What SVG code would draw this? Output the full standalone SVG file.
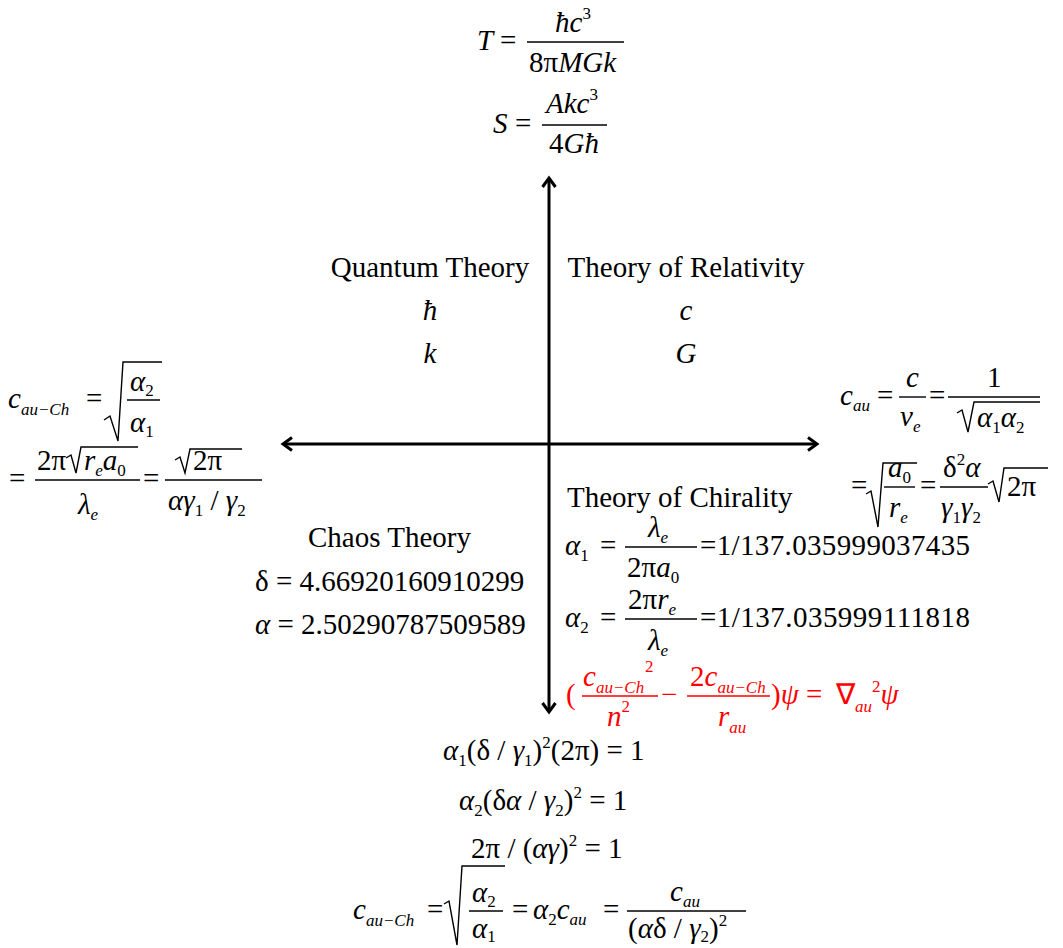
<svg xmlns="http://www.w3.org/2000/svg" width="1063" height="948" viewBox="0 0 1063 948">
<defs>
<style>
.m{font-family:"Liberation Serif","Times New Roman",serif;font-size:29px;fill:#000}
.i{font-style:italic}
.sb{font-size:17px}
.r{fill:#ff0000}
.fl{stroke:#000;stroke-width:1.4}
.rl{stroke:#ff0000;stroke-width:1.4}
.rad{fill:none;stroke:#000;stroke-width:1.4;stroke-linejoin:miter}
.ax{stroke:#000;stroke-width:3;fill:none}
</style>
<marker id="ah" markerUnits="userSpaceOnUse" viewBox="-14 -10 20 20" refX="0" refY="0" markerWidth="20" markerHeight="20" orient="auto-start-reverse">
<path d="M-9,-6.5 L0,0 L-9,6.5" fill="none" stroke="#000" stroke-width="3"/>
</marker>
</defs>
<rect width="1063" height="948" fill="#fff"/>

<g id="connectors">
<line class="ax" x1="549" y1="712" x2="549" y2="178" marker-start="url(#ah)" marker-end="url(#ah)"/>
<line class="ax" x1="283" y1="444" x2="817" y2="444" marker-start="url(#ah)" marker-end="url(#ah)"/>
</g>

<g id="n-hawking">
<text class="m i" x="477" y="50">T</text>
<text class="m" x="500" y="50">=</text>
<line class="fl" x1="527" y1="42" x2="624" y2="42"/>
<text class="m" x="555" y="32"><tspan class="i">ħc</tspan><tspan class="sb" dy="-13">3</tspan></text>
<text class="m" x="529" y="72">8π<tspan class="i">MGk</tspan></text>
<text class="m i" x="493" y="133">S</text>
<text class="m" x="515" y="133">=</text>
<line class="fl" x1="542" y1="125" x2="607" y2="125"/>
<text class="m" x="546" y="113"><tspan class="i">Akc</tspan><tspan class="sb" dy="-13">3</tspan></text>
<text class="m" x="549" y="153">4<tspan class="i">Għ</tspan></text>
</g>

<g id="n-quantum">
<text class="m" x="430" y="277" text-anchor="middle">Quantum Theory</text>
<text class="m i" x="430" y="320" text-anchor="middle">ħ</text>
<text class="m i" x="430" y="363" text-anchor="middle">k</text>
</g>

<g id="n-relativity">
<text class="m" x="686" y="277" text-anchor="middle">Theory of Relativity</text>
<text class="m i" x="686" y="320" text-anchor="middle">c</text>
<text class="m i" x="686" y="363" text-anchor="middle">G</text>
</g>

<g id="n-left">
<text class="m" x="8" y="408"><tspan class="i">c</tspan><tspan class="sb i" dy="7">au−Ch</tspan></text>
<text class="m" x="86" y="408">=</text>
<path class="rad" d="M104,420 L110,416 L118,441 L123,362 L162,362"/>
<line class="fl" x1="127" y1="400" x2="160" y2="400"/>
<text class="m" x="130" y="391"><tspan class="i">α</tspan><tspan class="sb" dy="5">2</tspan></text>
<text class="m" x="130" y="432"><tspan class="i">α</tspan><tspan class="sb" dy="5">1</tspan></text>
<text class="m" x="9" y="488">=</text>
<line class="fl" x1="35" y1="480" x2="140" y2="480"/>
<text class="m" x="37" y="470">2π</text>
<path class="rad" d="M66,458 L71,455 L76,473 L81,447 L138,447"/>
<text class="m" x="84" y="470"><tspan class="i">r</tspan><tspan class="sb i" dy="6">e</tspan><tspan class="i" dy="-6">a</tspan><tspan class="sb" dy="6">0</tspan></text>
<text class="m" x="78" y="514"><tspan class="i">λ</tspan><tspan class="sb i" dy="6">e</tspan></text>
<text class="m" x="143" y="488">=</text>
<line class="fl" x1="165" y1="480" x2="262" y2="480"/>
<path class="rad" d="M175,460 L180,457 L185,473 L190,449 L242,449"/>
<text class="m" x="193" y="470">2π</text>
<text class="m" x="168" y="510"><tspan class="i">αγ</tspan><tspan class="sb" dy="6">1</tspan><tspan dy="-6"> / </tspan><tspan class="i">γ</tspan><tspan class="sb" dy="6">2</tspan></text>
</g>

<g id="n-right">
<text class="m" x="840" y="405"><tspan class="i">c</tspan><tspan class="sb i" dy="6">au</tspan></text>
<text class="m" x="877" y="405">=</text>
<line class="fl" x1="899" y1="397" x2="926" y2="397"/>
<text class="m i" x="906" y="387">c</text>
<text class="m" x="900" y="426"><tspan class="i">v</tspan><tspan class="sb i" dy="6">e</tspan></text>
<text class="m" x="929" y="405">=</text>
<line class="fl" x1="948" y1="397" x2="1040" y2="397"/>
<text class="m" x="987" y="387">1</text>
<path class="rad" d="M957,413 L962,410 L968,432 L974,402 L1040,402"/>
<text class="m" x="977" y="427"><tspan class="i">α</tspan><tspan class="sb" dy="6">1</tspan><tspan class="i" dy="-6">α</tspan><tspan class="sb" dy="6">2</tspan></text>
<text class="m" x="851" y="495">=</text>
<path class="rad" d="M866,494 L871,491 L878,527 L883,463 L917,463"/>
<line class="fl" x1="884" y1="487" x2="915" y2="487"/>
<text class="m" x="888" y="477"><tspan class="i">a</tspan><tspan class="sb" dy="6">0</tspan></text>
<text class="m" x="889" y="517"><tspan class="i">r</tspan><tspan class="sb i" dy="6">e</tspan></text>
<text class="m" x="920" y="495">=</text>
<line class="fl" x1="940" y1="487" x2="988" y2="487"/>
<text class="m" x="943" y="477">δ<tspan class="sb" dy="-12">2</tspan><tspan class="i" dy="12">α</tspan></text>
<text class="m" x="941" y="517"><tspan class="i">γ</tspan><tspan class="sb" dy="6">1</tspan><tspan class="i" dy="-6">γ</tspan><tspan class="sb" dy="6">2</tspan></text>
<path class="rad" d="M988,484 L993,481 L999,502 L1004,468 L1048,468"/>
<text class="m" x="1007" y="496">2π</text>
</g>

<g id="n-chaos">
<text class="m" x="308" y="547">Chaos Theory</text>
<text class="m" x="255" y="591">δ = 4.66920160910299</text>
<text class="m" x="255" y="634"><tspan class="i">α</tspan> = 2.50290787509589</text>
</g>

<g id="n-chirality">
<text class="m" x="567" y="507">Theory of Chirality</text>
<text class="m" x="565" y="555"><tspan class="i">α</tspan><tspan class="sb" dy="6">1</tspan></text>
<text class="m" x="600" y="555">=</text>
<line class="fl" x1="625" y1="547" x2="697" y2="547"/>
<text class="m" x="648" y="537"><tspan class="i">λ</tspan><tspan class="sb i" dy="6">e</tspan></text>
<text class="m" x="627" y="577">2π<tspan class="i">a</tspan><tspan class="sb" dy="6">0</tspan></text>
<text class="m" x="700" y="555" textLength="270" lengthAdjust="spacing">=1/137.035999037435</text>
<text class="m" x="565" y="627"><tspan class="i">α</tspan><tspan class="sb" dy="6">2</tspan></text>
<text class="m" x="600" y="627">=</text>
<line class="fl" x1="625" y1="619" x2="697" y2="619"/>
<text class="m" x="628" y="609">2π<tspan class="i">r</tspan><tspan class="sb i" dy="6">e</tspan></text>
<text class="m" x="648" y="650"><tspan class="i">λ</tspan><tspan class="sb i" dy="6">e</tspan></text>
<text class="m" x="700" y="627" textLength="270" lengthAdjust="spacing">=1/137.035999111818</text>
</g>

<g id="n-wave">
<text class="m r" x="566" y="704">(</text>
<line class="rl" x1="582" y1="696" x2="658" y2="696"/>
<text class="m r" x="583" y="686"><tspan class="i">c</tspan><tspan class="sb i" dy="7">au−Ch</tspan></text>
<text class="m r sb" x="645" y="672">2</text>
<text class="m r" x="607" y="726"><tspan class="i">n</tspan><tspan class="sb" dy="-14">2</tspan></text>
<text class="m r" x="661" y="704">−</text>
<line class="rl" x1="687" y1="696" x2="770" y2="696"/>
<text class="m r" x="690" y="686">2<tspan class="i">c</tspan><tspan class="sb i" dy="7">au−Ch</tspan></text>
<text class="m r" x="718" y="726"><tspan class="i">r</tspan><tspan class="sb i" dy="7">au</tspan></text>
<text class="m r" x="771" y="704">)<tspan class="i">ψ</tspan> =</text>
<text class="m r" x="836" y="704">∇<tspan class="sb i" dy="8">au</tspan><tspan class="sb" dy="-20">2</tspan><tspan class="i" dy="12">ψ</tspan></text>
</g>

<g id="n-identities">
<text class="m" x="443" y="760"><tspan class="i">α</tspan><tspan class="sb" dy="6">1</tspan><tspan dy="-6">(δ / </tspan><tspan class="i">γ</tspan><tspan class="sb" dy="6">1</tspan><tspan dy="-6">)</tspan><tspan class="sb" dy="-12">2</tspan><tspan dy="12">(2π) = 1</tspan></text>
<text class="m" x="459" y="810"><tspan class="i">α</tspan><tspan class="sb" dy="6">2</tspan><tspan dy="-6">(δ</tspan><tspan class="i">α</tspan><tspan> / </tspan><tspan class="i">γ</tspan><tspan class="sb" dy="6">2</tspan><tspan dy="-6">)</tspan><tspan class="sb" dy="-12">2</tspan><tspan dy="12"> = 1</tspan></text>
<text class="m" x="471" y="858">2π / (<tspan class="i">αγ</tspan>)<tspan class="sb" dy="-12">2</tspan><tspan dy="12"> = 1</tspan></text>
<text class="m" x="353" y="919"><tspan class="i">c</tspan><tspan class="sb i" dy="7">au−Ch</tspan></text>
<text class="m" x="427" y="919">=</text>
<path class="rad" d="M444,904 L449,901 L457,945 L462,866 L505,866"/>
<line class="fl" x1="469" y1="911" x2="503" y2="911"/>
<text class="m" x="472" y="902"><tspan class="i">α</tspan><tspan class="sb" dy="5">2</tspan></text>
<text class="m" x="472" y="938"><tspan class="i">α</tspan><tspan class="sb" dy="4">1</tspan></text>
<text class="m" x="512" y="919">=</text>
<text class="m" x="533" y="919"><tspan class="i">α</tspan><tspan class="sb" dy="6">2</tspan><tspan class="i" dy="-6">c</tspan><tspan class="sb i" dy="6">au</tspan></text>
<text class="m" x="603" y="919">=</text>
<line class="fl" x1="627" y1="911" x2="746" y2="911"/>
<text class="m" x="670" y="901"><tspan class="i">c</tspan><tspan class="sb i" dy="6">au</tspan></text>
<text class="m" x="628" y="938">(<tspan class="i">α</tspan>δ / <tspan class="i">γ</tspan><tspan class="sb" dy="4">2</tspan><tspan dy="-4">)</tspan><tspan class="sb" dy="-12">2</tspan></text>
</g>
</svg>
